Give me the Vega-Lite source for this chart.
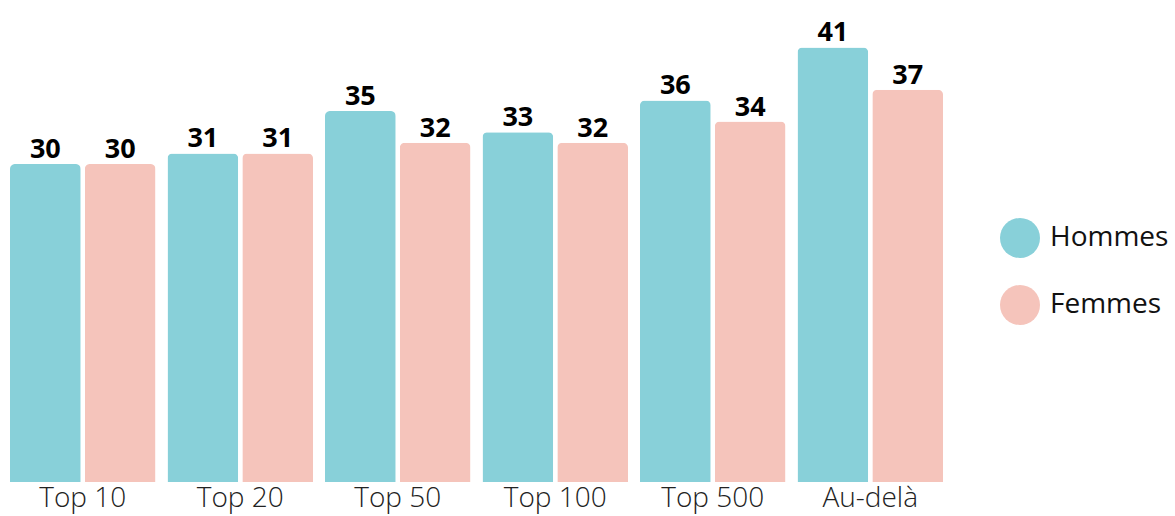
{
  "$schema": "https://vega.github.io/schema/vega-lite/v6.json",
  "autosize": {"type": "none"},
  "padding": {"left": 4, "top": 0, "right": 226, "bottom": 34},
  "width": 945,
  "height": 482,
  "background": "white",
  "config": {"view": {"stroke": null}, "font": "Open Sans"},
  "data": {"values": [
    {"cat": "Top 10", "g": "Hommes", "v": 30},
    {"cat": "Top 10", "g": "Femmes", "v": 30},
    {"cat": "Top 20", "g": "Hommes", "v": 31},
    {"cat": "Top 20", "g": "Femmes", "v": 31},
    {"cat": "Top 50", "g": "Hommes", "v": 35},
    {"cat": "Top 50", "g": "Femmes", "v": 32},
    {"cat": "Top 100", "g": "Hommes", "v": 33},
    {"cat": "Top 100", "g": "Femmes", "v": 32},
    {"cat": "Top 500", "g": "Hommes", "v": 36},
    {"cat": "Top 500", "g": "Femmes", "v": 34},
    {"cat": "Au-delà", "g": "Hommes", "v": 41},
    {"cat": "Au-delà", "g": "Femmes", "v": 37}
  ]},
  "encoding": {
    "x": {"field": "cat", "type": "nominal", "sort": null,
      "scale": {"paddingInner": 0.076, "paddingOuter": 0.038},
      "axis": {"title": null, "labelAngle": 0, "ticks": false, "domain": false, "labelFontSize": 28, "labelFontWeight": 300, "labelColor": "#222222", "labelPadding": 2, "labelFont": "Open Sans"}},
    "xOffset": {"field": "g", "type": "nominal", "sort": ["Hommes", "Femmes"], "scale": {"paddingInner": 0.055}},
    "y": {"field": "v", "type": "quantitative", "scale": {"domain": [0, 45.47], "nice": false}, "axis": null}
  },
  "layer": [
    {"mark": {"type": "bar", "cornerRadiusTopLeft": 5, "cornerRadiusTopRight": 5},
     "encoding": {
       "color": {"field": "g", "type": "nominal", "sort": ["Hommes", "Femmes"],
         "scale": {"domain": ["Hommes", "Femmes"], "range": ["#88D0D9", "#F5C4BB"]},
         "legend": {"title": null, "orient": "none", "legendX": 996, "legendY": 218, "symbolType": "circle", "symbolSize": 1600, "symbolOpacity": 1, "labelFontSize": 28, "labelFontWeight": "normal", "labelColor": "#111111", "labelFont": "Open Sans", "rowPadding": 27, "labelOffset": 10, "symbolStrokeWidth": 0, "labelLimit": 300}}
     }},
    {"mark": {"type": "text", "baseline": "alphabetic", "dy": -6, "fontSize": 27, "fontWeight": "bold", "color": "#000000", "font": "Open Sans"},
     "encoding": {"text": {"field": "v", "type": "quantitative"}}}
  ]
}
